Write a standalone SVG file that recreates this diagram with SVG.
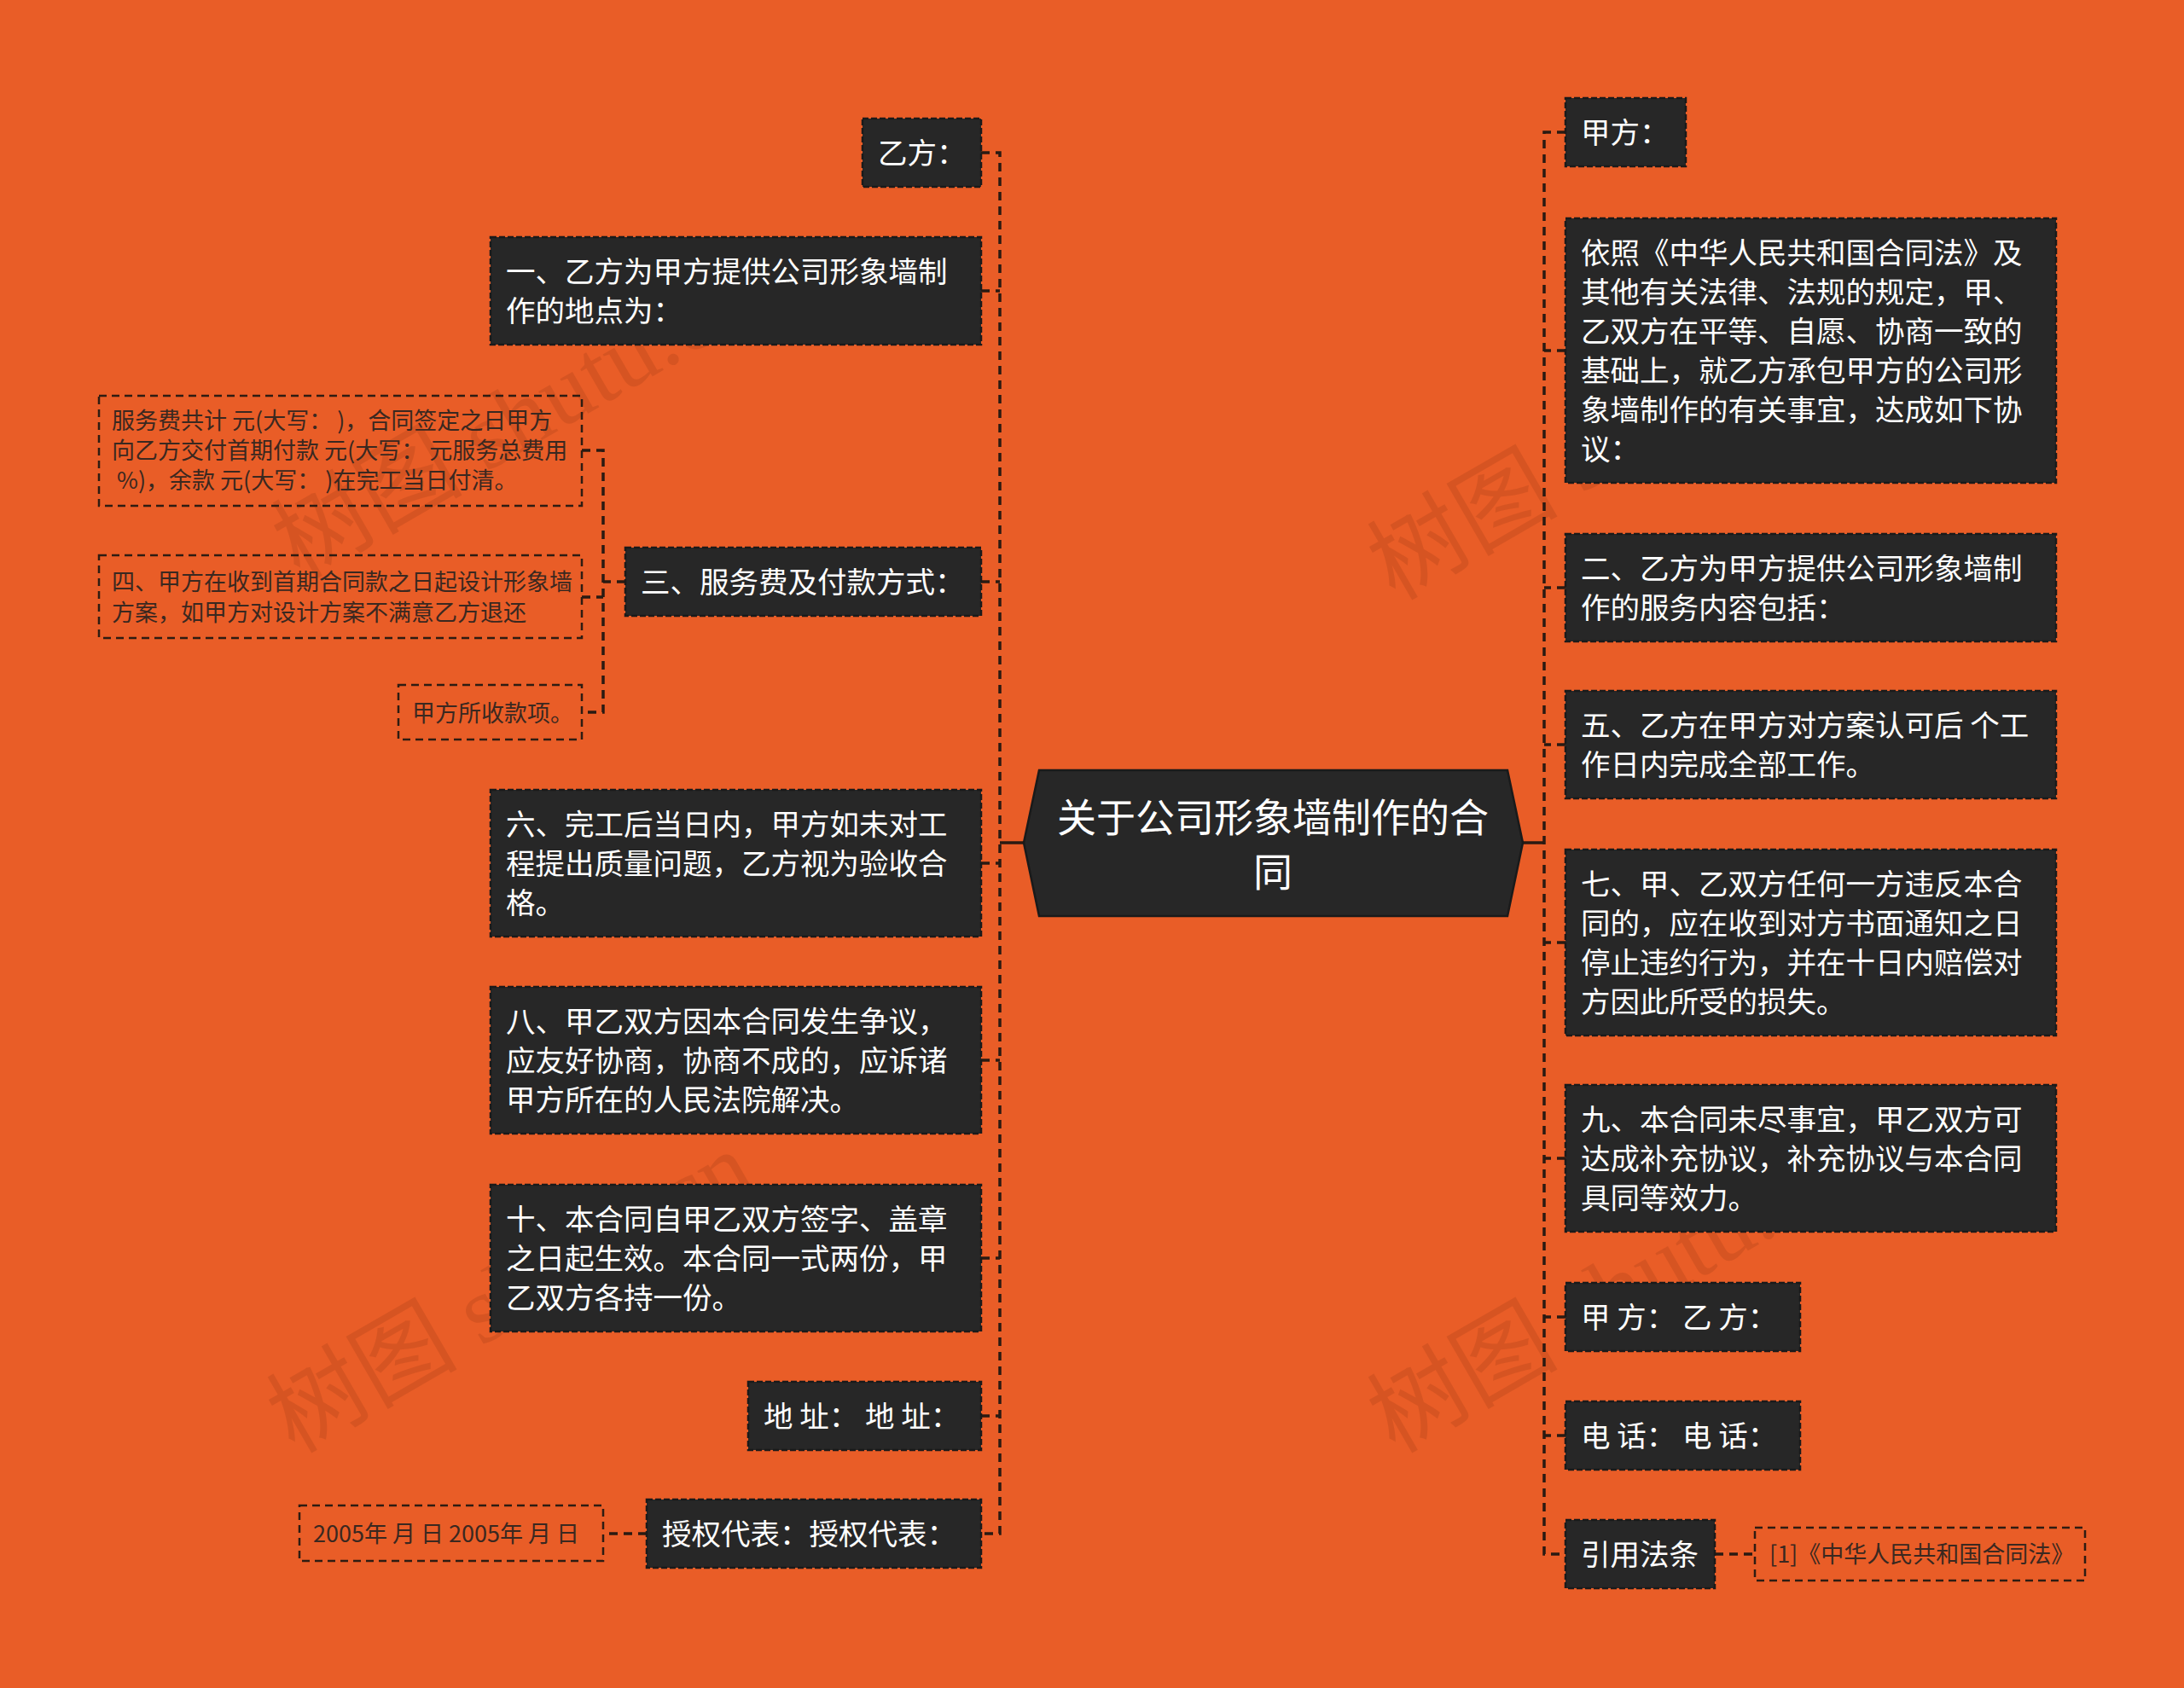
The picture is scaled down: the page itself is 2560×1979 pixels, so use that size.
<svg xmlns="http://www.w3.org/2000/svg" width="2560" height="1979" viewBox="0 0 2560 1979">
<style>
.bg{fill:#E95D27}
.box{fill:#272727;stroke:#1a1a1a;stroke-width:2.5;stroke-dasharray:7 3}
.leaf{fill:none;stroke:#2e1c12;stroke-width:2.5;stroke-dasharray:9 6}
.t{font-family:"Noto Sans CJK SC","Noto Sans",sans-serif;font-size:34.5px;fill:#ffffff}
.tc{font-family:"Noto Sans CJK SC","Noto Sans",sans-serif;font-size:46px;fill:#ffffff;text-anchor:middle}
.tl{font-family:"Noto Sans CJK SC","Noto Sans",sans-serif;font-size:27px;fill:#3a2820}
.wm{font-family:"Liberation Serif","Noto Sans CJK SC",serif;font-size:112px;fill:#b5461b;opacity:0.35}
.con{fill:none;stroke:#2a1a12;stroke-width:3.5;stroke-dasharray:10 7}
.solid{fill:none;stroke:#2a1a12;stroke-width:3.5}
</style>
<rect class="bg" x="0" y="0" width="2560" height="1979"/>

<g id="watermarks">
<text class="wm" transform="translate(351,680) rotate(-30)">树图 shutu.cn</text>
<text class="wm" transform="translate(345,1705) rotate(-30)">树图 shutu.cn</text>
<text class="wm" transform="translate(1635,705) rotate(-30)">树图 shutu.cn</text>
<text class="wm" transform="translate(1635,1705) rotate(-30)">树图 shutu.cn</text>
</g>

<g id="connectors">
<line class="solid" x1="1172" y1="988" x2="1200" y2="988"/>
<line class="solid" x1="1785" y1="988" x2="1810" y2="988"/>
<path class="con" d="M1150 179 H1172 V1798 H1150"/>
<path class="con" d="M1150 341 H1172"/>
<path class="con" d="M1150 682 H1172"/>
<path class="con" d="M1150 1012 H1172"/>
<path class="con" d="M1150 1243 H1172"/>
<path class="con" d="M1150 1475 H1172"/>
<path class="con" d="M1150 1660 H1172"/>
<path class="con" d="M733 682 H707"/>
<path class="con" d="M682 528 H707 V835 H682"/>
<path class="con" d="M682 700 H707"/>
<path class="con" d="M758 1798 H707"/>
<path class="con" d="M1835 155 H1810 V1822 H1835"/>
<path class="con" d="M1835 411 H1810"/>
<path class="con" d="M1835 689 H1810"/>
<path class="con" d="M1835 873 H1810"/>
<path class="con" d="M1835 1105 H1810"/>
<path class="con" d="M1835 1358 H1810"/>
<path class="con" d="M1835 1544 H1810"/>
<path class="con" d="M1835 1683 H1810"/>
<path class="con" d="M2010 1822 H2057"/>
</g>

<g id="center">
<polygon points="1218,903 1767,903 1785,988 1767,1074 1218,1074 1200,988" fill="#272727" stroke="#1a1a1a" stroke-width="2.5"/>
<text class="tc" x="1492" y="975">关于公司形象墙制作的合</text>
<text class="tc" x="1492" y="1039">同</text>
</g>

<g id="n-yifang">
<rect class="box" x="1011" y="139" width="139" height="80"/>
<text class="t" x="1029" y="192">乙方：</text>
</g>
<g id="n-1">
<rect class="box" x="575" y="278" width="575" height="126"/>
<text class="t" x="593" y="331">一、乙方为甲方提供公司形象墙制</text>
<text class="t" x="593" y="377">作的地点为：</text>
</g>
<g id="n-3">
<rect class="box" x="733" y="642" width="417" height="80"/>
<text class="t" x="751" y="695">三、服务费及付款方式：</text>
</g>
<g id="n-3a">
<rect class="leaf" x="116" y="464" width="566" height="129"/>
<text class="tl" x="131" y="503">服务费共计 元(大写： )，合同签定之日甲方</text>
<text class="tl" x="131" y="538">向乙方交付首期付款 元(大写： 元服务总费用</text>
<text class="tl" x="131" y="573" xml:space="preserve"> %)，余款 元(大写： )在完工当日付清。</text>
</g>
<g id="n-4">
<rect class="leaf" x="116" y="651" width="566" height="97"/>
<text class="tl" x="131" y="692">四、甲方在收到首期合同款之日起设计形象墙</text>
<text class="tl" x="131" y="728">方案，如甲方对设计方案不满意乙方退还</text>
</g>
<g id="n-3c">
<rect class="leaf" x="467" y="803" width="215" height="64"/>
<text class="tl" x="483" y="846">甲方所收款项。</text>
</g>
<g id="n-6">
<rect class="box" x="575" y="926" width="575" height="172"/>
<text class="t" x="593" y="979">六、完工后当日内，甲方如未对工</text>
<text class="t" x="593" y="1025">程提出质量问题，乙方视为验收合</text>
<text class="t" x="593" y="1071">格。</text>
</g>
<g id="n-8">
<rect class="box" x="575" y="1157" width="575" height="172"/>
<text class="t" x="593" y="1210">八、甲乙双方因本合同发生争议，</text>
<text class="t" x="593" y="1256">应友好协商，协商不成的，应诉诸</text>
<text class="t" x="593" y="1302">甲方所在的人民法院解决。</text>
</g>
<g id="n-10">
<rect class="box" x="575" y="1389" width="575" height="172"/>
<text class="t" x="593" y="1442">十、本合同自甲乙双方签字、盖章</text>
<text class="t" x="593" y="1488">之日起生效。本合同一式两份，甲</text>
<text class="t" x="593" y="1534">乙双方各持一份。</text>
</g>
<g id="n-addr">
<rect class="box" x="877" y="1620" width="273" height="80"/>
<text class="t" x="895" y="1673" xml:space="preserve">地 址： 地 址：</text>
</g>
<g id="n-rep">
<rect class="box" x="758" y="1758" width="392" height="80"/>
<text class="t" x="776" y="1811">授权代表：授权代表：</text>
</g>
<g id="n-date">
<rect class="leaf" x="351" y="1765" width="356" height="65"/>
<text class="tl" x="367" y="1808">2005年 月 日 2005年 月 日</text>
</g>

<g id="n-jiafang">
<rect class="box" x="1835" y="115" width="141" height="80"/>
<text class="t" x="1853" y="168">甲方：</text>
</g>
<g id="n-intro">
<rect class="box" x="1835" y="256" width="575" height="310"/>
<text class="t" x="1853" y="309">依照《中华人民共和国合同法》及</text>
<text class="t" x="1853" y="355">其他有关法律、法规的规定，甲、</text>
<text class="t" x="1853" y="401">乙双方在平等、自愿、协商一致的</text>
<text class="t" x="1853" y="447">基础上，就乙方承包甲方的公司形</text>
<text class="t" x="1853" y="493">象墙制作的有关事宜，达成如下协</text>
<text class="t" x="1853" y="539">议：</text>
</g>
<g id="n-2">
<rect class="box" x="1835" y="626" width="575" height="126"/>
<text class="t" x="1853" y="679">二、乙方为甲方提供公司形象墙制</text>
<text class="t" x="1853" y="725">作的服务内容包括：</text>
</g>
<g id="n-5">
<rect class="box" x="1835" y="810" width="575" height="126"/>
<text class="t" x="1853" y="863">五、乙方在甲方对方案认可后 个工</text>
<text class="t" x="1853" y="909">作日内完成全部工作。</text>
</g>
<g id="n-7">
<rect class="box" x="1835" y="996" width="575" height="218"/>
<text class="t" x="1853" y="1049">七、甲、乙双方任何一方违反本合</text>
<text class="t" x="1853" y="1095">同的，应在收到对方书面通知之日</text>
<text class="t" x="1853" y="1141">停止违约行为，并在十日内赔偿对</text>
<text class="t" x="1853" y="1187">方因此所受的损失。</text>
</g>
<g id="n-9">
<rect class="box" x="1835" y="1272" width="575" height="172"/>
<text class="t" x="1853" y="1325">九、本合同未尽事宜，甲乙双方可</text>
<text class="t" x="1853" y="1371">达成补充协议，补充协议与本合同</text>
<text class="t" x="1853" y="1417">具同等效力。</text>
</g>
<g id="n-sign">
<rect class="box" x="1835" y="1504" width="275" height="80"/>
<text class="t" x="1853" y="1557" xml:space="preserve">甲 方： 乙 方：</text>
</g>
<g id="n-tel">
<rect class="box" x="1835" y="1643" width="275" height="80"/>
<text class="t" x="1853" y="1696" xml:space="preserve">电 话： 电 话：</text>
</g>
<g id="n-law">
<rect class="box" x="1835" y="1782" width="175" height="80"/>
<text class="t" x="1853" y="1835">引用法条</text>
</g>
<g id="n-lawref">
<rect class="leaf" x="2057" y="1791" width="387" height="62"/>
<text class="tl" x="2074" y="1832">[1]《中华人民共和国合同法》</text>
</g>
</svg>
